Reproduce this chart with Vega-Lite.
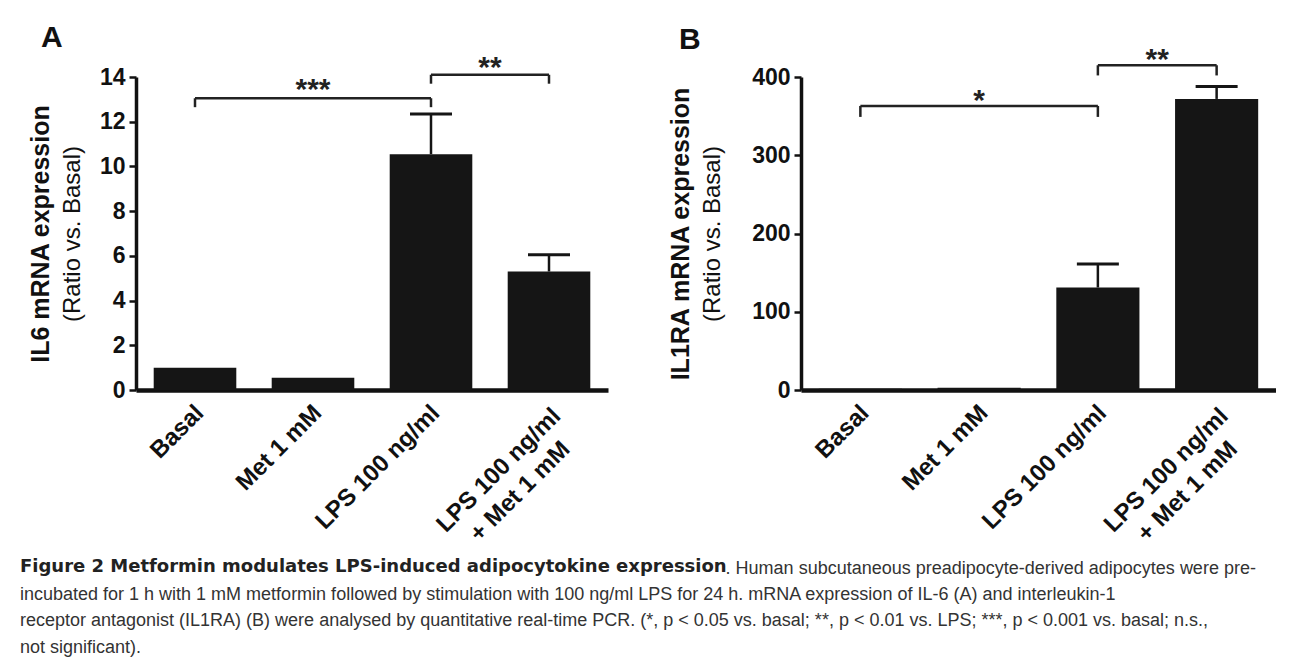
{
  "$schema": "https://vega.github.io/schema/vega-lite/v6.json",
  "background": "white",
  "padding": {"left": 20, "top": 22, "right": 0, "bottom": 0},
  "autosize": {"type": "pad"},
  "spacing": 60,
  "datasets": {
    "a": [
      {"group": "Basal", "value": 1.0},
      {"group": "Met 1 mM", "value": 0.55},
      {"group": "LPS 100 ng/ml", "value": 10.55},
      {"group": "LPS 100 ng/ml + Met 1 mM", "value": 5.3}
    ],
    "aErr": [
      {"group": "LPS 100 ng/ml", "value": 10.55, "upper": 12.35},
      {"group": "LPS 100 ng/ml + Met 1 mM", "value": 5.3, "upper": 6.05}
    ],
    "aBr": [
      {"id": 1, "from": "Basal", "to": "LPS 100 ng/ml", "mid": "Met 1 mM", "y": 13.05, "tip": 12.65, "stars": "***"},
      {"id": 2, "from": "LPS 100 ng/ml", "to": "LPS 100 ng/ml + Met 1 mM", "mid": "LPS 100 ng/ml + Met 1 mM", "y": 14.1, "tip": 13.7, "stars": "**"}
    ],
    "b": [
      {"group": "Basal", "value": 1.5},
      {"group": "Met 1 mM", "value": 3},
      {"group": "LPS 100 ng/ml", "value": 131},
      {"group": "LPS 100 ng/ml + Met 1 mM", "value": 372}
    ],
    "bErr": [
      {"group": "LPS 100 ng/ml", "value": 131, "upper": 161},
      {"group": "LPS 100 ng/ml + Met 1 mM", "value": 372, "upper": 388}
    ],
    "bBr": [
      {"id": 1, "from": "Basal", "to": "LPS 100 ng/ml", "mid": "Met 1 mM", "y": 363, "tip": 349, "stars": "*"},
      {"id": 2, "from": "LPS 100 ng/ml", "to": "LPS 100 ng/ml + Met 1 mM", "mid": "LPS 100 ng/ml + Met 1 mM", "y": 415, "tip": 402, "stars": "**"}
    ]
  },
  "hconcat": [
    {
      "width": 472,
      "height": 313,
      "title": {"text": "A", "anchor": "start", "fontSize": 30, "fontWeight": "bold", "font": "Liberation Sans", "dx": 13, "offset": 0, "color": "#111"},
      "layer": [
        {
          "layer": [
            {
              "data": {"name": "a"},
              "mark": {"type": "bar", "color": "#151515"},
              "encoding": {
                "x": {
                  "field": "group", "type": "nominal",
                  "scale": {"domain": ["Basal", "Met 1 mM", "LPS 100 ng/ml", "LPS 100 ng/ml + Met 1 mM"], "paddingInner": 0.3, "paddingOuter": 0.15},
                  "axis": {
                    "title": null,
                    "labelExpr": "datum.value == 'LPS 100 ng/ml + Met 1 mM' ? ['LPS 100 ng/ml', '+ Met 1 mM'] : datum.label",
                    "labelAlign": {"condition": {"test": "datum.value == 'LPS 100 ng/ml + Met 1 mM'", "value": "center"}, "value": "right"},
                    "labelOffset": {"condition": {"test": "datum.value == 'LPS 100 ng/ml + Met 1 mM'", "value": -50}, "value": 5},
                    "labelPadding": {"condition": {"test": "datum.value == 'LPS 100 ng/ml + Met 1 mM'", "value": 80}, "value": 19}
                  }
                },
                "y": {
                  "field": "value", "type": "quantitative",
                  "scale": {"domain": [0, 14], "nice": false},
                  "axis": {"values": [0, 2, 4, 6, 8, 10, 12, 14], "title": "(Ratio vs. Basal)", "titlePadding": 15}
                }
              }
            },
            {
              "data": {"name": "aErr"},
              "mark": {"type": "rule", "color": "#151515", "strokeWidth": 2.5},
              "encoding": {
                "x": {"field": "group", "type": "nominal", "scale": {"domain": ["Basal", "Met 1 mM", "LPS 100 ng/ml", "LPS 100 ng/ml + Met 1 mM"], "paddingInner": 0.3, "paddingOuter": 0.15}},
                "y": {"field": "value", "type": "quantitative", "scale": {"domain": [0, 14], "nice": false}},
                "y2": {"field": "upper"}
              }
            },
            {
              "data": {"name": "aErr"},
              "mark": {"type": "tick", "color": "#151515", "opacity": 1, "thickness": 3, "size": 42},
              "encoding": {
                "x": {"field": "group", "type": "nominal", "scale": {"domain": ["Basal", "Met 1 mM", "LPS 100 ng/ml", "LPS 100 ng/ml + Met 1 mM"], "paddingInner": 0.3, "paddingOuter": 0.15}},
                "y": {"field": "upper", "type": "quantitative", "scale": {"domain": [0, 14], "nice": false}}
              }
            },
            {
              "data": {"name": "aBr"},
              "mark": {"type": "rule", "color": "#222", "strokeWidth": 2.5},
              "encoding": {
                "x": {"field": "from", "type": "nominal", "scale": {"domain": ["Basal", "Met 1 mM", "LPS 100 ng/ml", "LPS 100 ng/ml + Met 1 mM"], "paddingInner": 0.3, "paddingOuter": 0.15}},
                "x2": {"field": "to"},
                "y": {"field": "y", "type": "quantitative", "scale": {"domain": [0, 14], "nice": false}}
              }
            },
            {
              "data": {"name": "aBr"},
              "mark": {"type": "rule", "color": "#222", "strokeWidth": 2.5},
              "encoding": {
                "x": {"field": "from", "type": "nominal", "scale": {"domain": ["Basal", "Met 1 mM", "LPS 100 ng/ml", "LPS 100 ng/ml + Met 1 mM"], "paddingInner": 0.3, "paddingOuter": 0.15}},
                "y": {"field": "y", "type": "quantitative", "scale": {"domain": [0, 14], "nice": false}},
                "y2": {"field": "tip"}
              }
            },
            {
              "data": {"name": "aBr"},
              "mark": {"type": "rule", "color": "#222", "strokeWidth": 2.5},
              "encoding": {
                "x": {"field": "to", "type": "nominal", "scale": {"domain": ["Basal", "Met 1 mM", "LPS 100 ng/ml", "LPS 100 ng/ml + Met 1 mM"], "paddingInner": 0.3, "paddingOuter": 0.15}},
                "y": {"field": "y", "type": "quantitative", "scale": {"domain": [0, 14], "nice": false}},
                "y2": {"field": "tip"}
              }
            },
            {
              "data": {"name": "aBr"},
              "transform": [{"filter": "datum.id == 1"}],
              "mark": {"type": "text", "color": "#222", "fontSize": 30, "fontWeight": "bold", "baseline": "alphabetic", "dy": 1},
              "encoding": {
                "x": {"field": "mid", "type": "nominal", "scale": {"domain": ["Basal", "Met 1 mM", "LPS 100 ng/ml", "LPS 100 ng/ml + Met 1 mM"], "paddingInner": 0.3, "paddingOuter": 0.15}},
                "y": {"field": "y", "type": "quantitative", "scale": {"domain": [0, 14], "nice": false}},
                "text": {"field": "stars"}
              }
            },
            {
              "data": {"name": "aBr"},
              "transform": [{"filter": "datum.id == 2"}],
              "mark": {"type": "text", "color": "#222", "fontSize": 30, "fontWeight": "bold", "baseline": "alphabetic", "dy": 2},
              "encoding": {
                "x": {"field": "mid", "type": "nominal", "bandPosition": -0.214, "scale": {"domain": ["Basal", "Met 1 mM", "LPS 100 ng/ml", "LPS 100 ng/ml + Met 1 mM"], "paddingInner": 0.3, "paddingOuter": 0.15}},
                "y": {"field": "y", "type": "quantitative", "scale": {"domain": [0, 14], "nice": false}},
                "text": {"field": "stars"}
              }
            }
          ]
        },
        {
          "data": {"name": "a"},
          "mark": {"type": "tick", "opacity": 0},
          "encoding": {
            "x": {"field": "group", "type": "nominal", "scale": {"domain": ["Basal", "Met 1 mM", "LPS 100 ng/ml", "LPS 100 ng/ml + Met 1 mM"], "paddingInner": 0.3, "paddingOuter": 0.15}},
            "y": {
              "field": "value", "type": "quantitative",
              "scale": {"domain": [0, 14], "nice": false},
              "axis": {"orient": "left", "title": "IL6 mRNA expression", "titleFontWeight": "bold", "titleFontSize": 25, "labels": false, "ticks": false, "domain": false, "minExtent": 0, "titlePadding": 83}
            }
          }
        }
      ],
      "resolve": {"scale": {"y": "independent"}, "axis": {"y": "independent"}}
    },
    {
      "width": 475,
      "height": 313,
      "title": {"text": "B", "anchor": "start", "fontSize": 30, "fontWeight": "bold", "font": "Liberation Sans", "dx": 11, "offset": -9.5, "color": "#111"},
      "layer": [
        {
          "layer": [
            {
              "data": {"name": "b"},
              "mark": {"type": "bar", "color": "#151515"},
              "encoding": {
                "x": {
                  "field": "group", "type": "nominal",
                  "scale": {"domain": ["Basal", "Met 1 mM", "LPS 100 ng/ml", "LPS 100 ng/ml + Met 1 mM"], "paddingInner": 0.3, "paddingOuter": 0.15},
                  "axis": {
                    "title": null,
                    "labelExpr": "datum.value == 'LPS 100 ng/ml + Met 1 mM' ? ['LPS 100 ng/ml', '+ Met 1 mM'] : datum.label",
                    "labelAlign": {"condition": {"test": "datum.value == 'LPS 100 ng/ml + Met 1 mM'", "value": "center"}, "value": "right"},
                    "labelOffset": {"condition": {"test": "datum.value == 'LPS 100 ng/ml + Met 1 mM'", "value": -50}, "value": 5},
                    "labelPadding": {"condition": {"test": "datum.value == 'LPS 100 ng/ml + Met 1 mM'", "value": 80}, "value": 19}
                  }
                },
                "y": {
                  "field": "value", "type": "quantitative",
                  "scale": {"domain": [0, 400], "nice": false},
                  "axis": {"values": [0, 100, 200, 300, 400], "title": "(Ratio vs. Basal)", "titlePadding": 27}
                }
              }
            },
            {
              "data": {"name": "bErr"},
              "mark": {"type": "rule", "color": "#151515", "strokeWidth": 2.5},
              "encoding": {
                "x": {"field": "group", "type": "nominal", "scale": {"domain": ["Basal", "Met 1 mM", "LPS 100 ng/ml", "LPS 100 ng/ml + Met 1 mM"], "paddingInner": 0.3, "paddingOuter": 0.15}},
                "y": {"field": "value", "type": "quantitative", "scale": {"domain": [0, 400], "nice": false}},
                "y2": {"field": "upper"}
              }
            },
            {
              "data": {"name": "bErr"},
              "mark": {"type": "tick", "color": "#151515", "opacity": 1, "thickness": 3, "size": 42},
              "encoding": {
                "x": {"field": "group", "type": "nominal", "scale": {"domain": ["Basal", "Met 1 mM", "LPS 100 ng/ml", "LPS 100 ng/ml + Met 1 mM"], "paddingInner": 0.3, "paddingOuter": 0.15}},
                "y": {"field": "upper", "type": "quantitative", "scale": {"domain": [0, 400], "nice": false}}
              }
            },
            {
              "data": {"name": "bBr"},
              "mark": {"type": "rule", "color": "#222", "strokeWidth": 2.5},
              "encoding": {
                "x": {"field": "from", "type": "nominal", "scale": {"domain": ["Basal", "Met 1 mM", "LPS 100 ng/ml", "LPS 100 ng/ml + Met 1 mM"], "paddingInner": 0.3, "paddingOuter": 0.15}},
                "x2": {"field": "to"},
                "y": {"field": "y", "type": "quantitative", "scale": {"domain": [0, 400], "nice": false}}
              }
            },
            {
              "data": {"name": "bBr"},
              "mark": {"type": "rule", "color": "#222", "strokeWidth": 2.5},
              "encoding": {
                "x": {"field": "from", "type": "nominal", "scale": {"domain": ["Basal", "Met 1 mM", "LPS 100 ng/ml", "LPS 100 ng/ml + Met 1 mM"], "paddingInner": 0.3, "paddingOuter": 0.15}},
                "y": {"field": "y", "type": "quantitative", "scale": {"domain": [0, 400], "nice": false}},
                "y2": {"field": "tip"}
              }
            },
            {
              "data": {"name": "bBr"},
              "mark": {"type": "rule", "color": "#222", "strokeWidth": 2.5},
              "encoding": {
                "x": {"field": "to", "type": "nominal", "scale": {"domain": ["Basal", "Met 1 mM", "LPS 100 ng/ml", "LPS 100 ng/ml + Met 1 mM"], "paddingInner": 0.3, "paddingOuter": 0.15}},
                "y": {"field": "y", "type": "quantitative", "scale": {"domain": [0, 400], "nice": false}},
                "y2": {"field": "tip"}
              }
            },
            {
              "data": {"name": "bBr"},
              "transform": [{"filter": "datum.id == 1"}],
              "mark": {"type": "text", "color": "#222", "fontSize": 30, "fontWeight": "bold", "baseline": "alphabetic", "dy": 4},
              "encoding": {
                "x": {"field": "mid", "type": "nominal", "scale": {"domain": ["Basal", "Met 1 mM", "LPS 100 ng/ml", "LPS 100 ng/ml + Met 1 mM"], "paddingInner": 0.3, "paddingOuter": 0.15}},
                "y": {"field": "y", "type": "quantitative", "scale": {"domain": [0, 400], "nice": false}},
                "text": {"field": "stars"}
              }
            },
            {
              "data": {"name": "bBr"},
              "transform": [{"filter": "datum.id == 2"}],
              "mark": {"type": "text", "color": "#222", "fontSize": 30, "fontWeight": "bold", "baseline": "alphabetic", "dy": 4},
              "encoding": {
                "x": {"field": "mid", "type": "nominal", "bandPosition": -0.214, "scale": {"domain": ["Basal", "Met 1 mM", "LPS 100 ng/ml", "LPS 100 ng/ml + Met 1 mM"], "paddingInner": 0.3, "paddingOuter": 0.15}},
                "y": {"field": "y", "type": "quantitative", "scale": {"domain": [0, 400], "nice": false}},
                "text": {"field": "stars"}
              }
            }
          ]
        },
        {
          "data": {"name": "b"},
          "mark": {"type": "tick", "opacity": 0},
          "encoding": {
            "x": {"field": "group", "type": "nominal", "scale": {"domain": ["Basal", "Met 1 mM", "LPS 100 ng/ml", "LPS 100 ng/ml + Met 1 mM"], "paddingInner": 0.3, "paddingOuter": 0.15}},
            "y": {
              "field": "value", "type": "quantitative",
              "scale": {"domain": [0, 400], "nice": false},
              "axis": {"orient": "left", "title": "IL1RA mRNA expression", "titleFontWeight": "bold", "titleFontSize": 25, "labels": false, "ticks": false, "domain": false, "minExtent": 0, "titlePadding": 108}
            }
          }
        }
      ],
      "resolve": {"scale": {"y": "independent"}, "axis": {"y": "independent"}}
    }
  ],
  "title": {
    "text": "Figure 2 Metformin modulates LPS-induced adipocytokine expression",
    "subtitle": [
      "\u200b\u2003\u2003\u2003\u2003\u2003\u2003\u2003\u2003\u2003\u2003\u2003\u2003\u2003\u2003\u2003\u2003\u2003\u2003\u2003\u2003\u2003\u2003\u2003\u2003\u2003\u2003\u2003\u2003\u2003\u2003\u2003\u2003\u2003\u2003\u2003\u2003\u2003\u2003\u2003\u2009. Human subcutaneous preadipocyte-derived adipocytes were pre-",
      "incubated for 1 h with 1 mM metformin followed by stimulation with 100 ng/ml LPS for 24 h. mRNA expression of IL-6 (A) and interleukin-1",
      "receptor antagonist (IL1RA) (B) were analysed by quantitative real-time PCR. (*, p < 0.05 vs. basal; **, p < 0.01 vs. LPS; ***, p < 0.001 vs. basal; n.s.,",
      "not significant)."
    ],
    "orient": "bottom",
    "anchor": "start",
    "frame": "bounds",
    "font": "DejaVu Sans",
    "fontSize": 18,
    "fontWeight": "bold",
    "color": "#222",
    "subtitleFont": "Liberation Sans",
    "subtitleFontSize": 18,
    "subtitleFontWeight": "normal",
    "subtitleColor": "#333",
    "subtitleLineHeight": 26.4,
    "subtitlePadding": -16,
    "dx": -8,
    "offset": 0
  },
  "config": {
    "view": {"stroke": null},
    "font": "Liberation Sans",
    "axis": {"grid": false, "domainColor": "#111", "tickColor": "#111", "labelColor": "#111", "titleColor": "#111", "labelFont": "Liberation Sans", "titleFont": "Liberation Sans"},
    "axisY": {"domainWidth": 3.5, "tickWidth": 2.5, "tickSize": 7, "labelFontSize": 23, "labelFontWeight": "bold", "labelPadding": 4, "titleFontSize": 24, "titleFontWeight": "normal"},
    "axisX": {"domainWidth": 4.5, "ticks": false, "labelAngle": -45, "labelFontSize": 24, "labelFontWeight": "bold", "labelBaseline": "middle", "labelLineHeight": 30, "labelOverlap": false, "labelBound": false, "labelLimit": 400}
  }
}
